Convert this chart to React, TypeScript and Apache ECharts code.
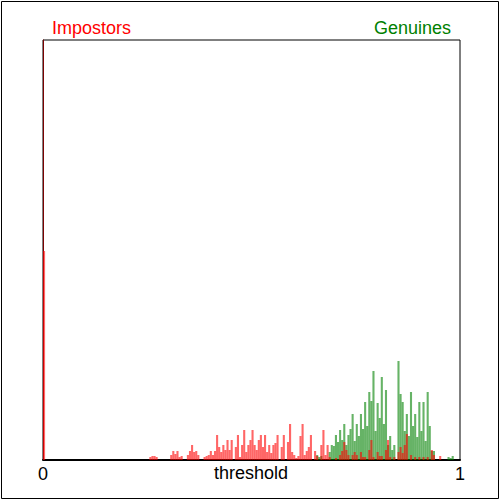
import React, { useEffect, useRef } from "react";
import * as echarts from "echarts";

// Histogram bins of width 0.005 on the threshold axis (bin index -> count)
const binWidth = 0.005;

const impostorBins = [0, 51, 52, 53, 54, 61, 62, 63, 64, 65, 66, 69, 70, 71, 72, 73, 74, 77, 78, 79, 80, 81, 82, 83, 84, 85, 86, 87, 88, 89, 90, 92, 93, 94, 95, 96, 97, 98, 99, 100, 101, 102, 103, 104, 105, 106, 107, 108, 109, 110, 111, 112, 114, 115, 117, 118, 119, 120, 121, 122, 123, 124, 125, 126, 127, 128, 130, 131, 133, 134, 135, 136, 137, 140, 142, 143, 144, 145, 146, 148, 149, 150, 152, 153, 154, 156, 157, 158, 160, 161, 162, 164, 165, 166, 168, 170, 171, 172, 173, 174, 176, 178, 180, 182, 184, 186, 187, 190];
const impostorCounts = [209, 3, 4, 4, 3, 5, 9, 6, 9, 3, 4, 5, 9, 15, 8, 9, 5, 3, 4, 5, 9, 5, 9, 25, 13, 8, 15, 10, 20, 10, 20, 13, 25, 3, 15, 30, 8, 15, 20, 30, 15, 10, 20, 25, 13, 25, 8, 15, 7, 15, 17, 25, 13, 25, 18, 36, 8, 5, 2, 4, 24, 36, 5, 9, 13, 25, 9, 4, 15, 30, 5, 15, 3, 2, 5, 9, 18, 10, 5, 5, 8, 5, 8, 3, 3, 10, 20, 3, 8, 4, 4, 10, 20, 3, 3, 8, 13, 7, 15, 26, 5, 3, 3, 3, 3, 10, 5, 4];

const genuineBins = [131, 132, 133, 137, 138, 139, 140, 141, 142, 143, 144, 145, 146, 147, 148, 149, 150, 151, 152, 153, 154, 155, 156, 157, 158, 159, 160, 161, 162, 163, 164, 165, 166, 167, 168, 170, 171, 172, 173, 174, 175, 176, 177, 178, 179, 180, 181, 182, 183, 184, 185, 186, 187, 194, 195, 196];
const genuineCounts = [5, 3, 4, 8, 15, 14, 25, 18, 30, 20, 36, 15, 25, 31, 46, 19, 36, 24, 46, 31, 58, 34, 68, 59, 89, 29, 57, 42, 83, 36, 70, 15, 24, 10, 15, 99, 66, 58, 29, 46, 24, 68, 34, 46, 23, 58, 29, 58, 19, 68, 34, 9, 9, 3, 2, 4];

const xTicks = [0, 1];
const yMax = 420;

const FONT = "'Liberation Sans', Arial, sans-serif";

const toData = (bins: number[], counts: number[]) =>
  bins.map((k, i) => [(k + 0.5) * binWidth, counts[i]]);

export default function App() {
  const ref = useRef<HTMLDivElement>(null);

  useEffect(() => {
    if (!ref.current) return;
    const chart = echarts.init(ref.current, null, { renderer: "svg" });
    chart.setOption({
      animation: false,
      backgroundColor: "#ffffff",
      grid: {
        left: 43,
        right: 40,
        top: 40,
        bottom: 40,
        show: true,
        borderColor: "#000000",
        borderWidth: 1,
        backgroundColor: "transparent",
      },
      xAxis: {
        type: "value",
        min: xTicks[0],
        max: xTicks[1],
        interval: 1,
        axisLine: { show: true, onZero: false, lineStyle: { color: "#000", width: 2 } },
        axisTick: { show: false },
        splitLine: { show: false },
        axisLabel: { show: true, color: "#000", fontSize: 18, fontFamily: FONT, margin: 5 },
      },
      yAxis: {
        type: "value",
        min: 0,
        max: yMax,
        axisLine: { show: true, lineStyle: { color: "#7a0000", width: 1 } },
        axisTick: { show: false },
        axisLabel: { show: false },
        splitLine: { show: false },
      },
      series: [
        {
          name: "Genuines",
          type: "bar",
          barWidth: 2.1,
          barGap: "-100%",
          itemStyle: { color: "rgba(0,128,0,0.6)" },
          data: toData(genuineBins, genuineCounts),
        },
        {
          name: "Impostors",
          type: "bar",
          barWidth: 2.1,
          barGap: "-100%",
          itemStyle: { color: "rgba(255,0,0,0.6)" },
          data: toData(impostorBins, impostorCounts),
        },
      ],
      graphic: [
        {
          type: "rect",
          shape: { x: 1.5, y: 1.5, width: 497, height: 497 },
          style: { fill: "none", stroke: "#000", lineWidth: 1 },
          silent: true,
        },
        {
          type: "text",
          x: 52,
          y: 28,
          style: { text: "Impostors", fill: "#ff0000", fontSize: 18, fontFamily: FONT, textAlign: "left", textVerticalAlign: "middle" },
        },
        {
          type: "text",
          x: 451,
          y: 28,
          style: { text: "Genuines", fill: "#008000", fontSize: 18, fontFamily: FONT, textAlign: "right", textVerticalAlign: "middle" },
        },
        {
          type: "text",
          x: 251,
          y: 473,
          style: { text: "threshold", fill: "#000", fontSize: 18, fontFamily: FONT, textAlign: "center", textVerticalAlign: "middle" },
        },
      ],
    });
    return () => chart.dispose();
  }, []);

  return (
    <div
      ref={ref}
      style={{ position: "fixed", left: 0, top: 0, width: 500, height: 500 }}
    />
  );
}
